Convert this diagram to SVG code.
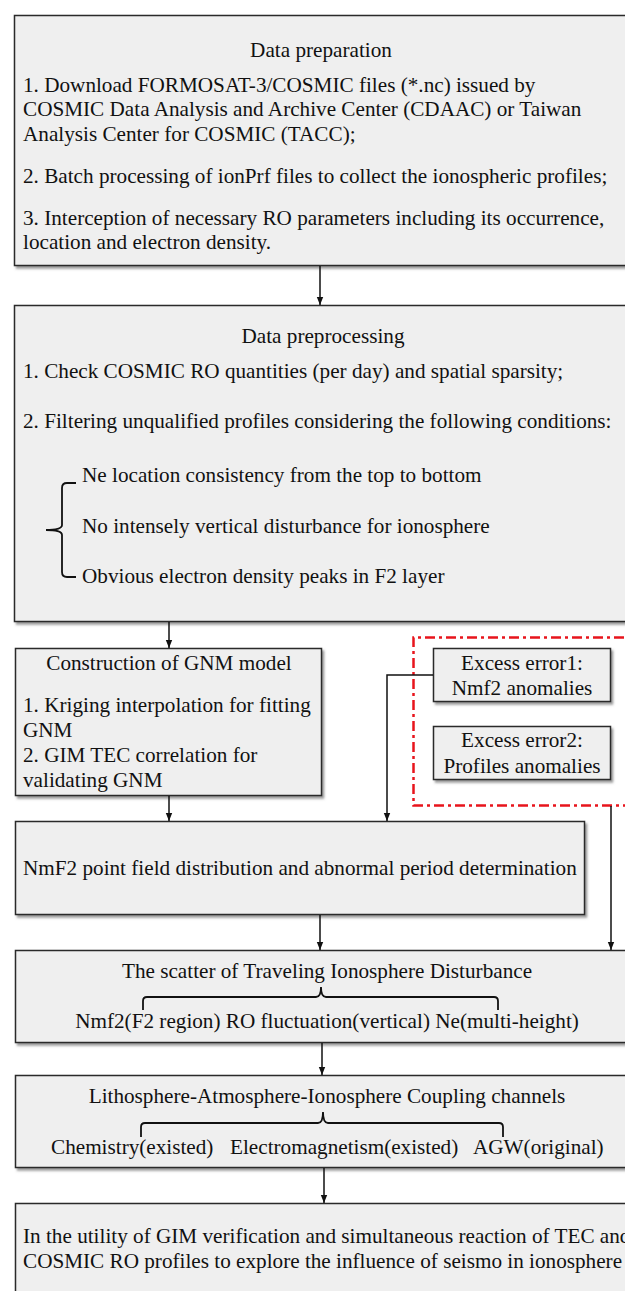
<svg xmlns="http://www.w3.org/2000/svg" width="625" height="1291" viewBox="0 0 625 1291" font-family="'Liberation Serif', 'Times New Roman', serif">
<defs>
<filter id="sh" x="-5%" y="-5%" width="115%" height="120%">
<feDropShadow dx="2" dy="2.5" stdDeviation="1.2" flood-color="#444" flood-opacity="0.55"/>
</filter>
<marker id="ah" viewBox="0 0 10 10" refX="10" refY="5" markerWidth="8" markerHeight="8" markerUnits="userSpaceOnUse" orient="auto">
<path d="M0,1 L10,5 L0,9 Z" fill="#111"/>
</marker>
<style>
.box{fill:#efefef;stroke:#2a2a2a;stroke-width:1.5;filter:url(#sh)}
.t{font-family:'Liberation Serif','Times New Roman',serif;font-size:21.2px;fill:#111}
.c{text-anchor:middle}
.con{stroke:#111;stroke-width:1.5;fill:none;marker-end:url(#ah)}
.br{stroke:#111;stroke-width:1.8;fill:none}
.red{fill:none;stroke:#e8141c;stroke-width:2.5;stroke-dasharray:10 4 3 4}
</style>
</defs>
<rect width="625" height="1291" fill="#ffffff"/>

<g id="prep">
<rect class="box" x="14.5" y="15.5" width="630" height="250"/>
<text class="t c" x="321" y="57">Data preparation</text>
<text class="t" x="23" y="92">1. Download FORMOSAT-3/COSMIC files (*.nc) issued by</text>
<text class="t" x="23" y="116">COSMIC Data Analysis and Archive Center (CDAAC) or Taiwan</text>
<text class="t" x="23" y="141">Analysis Center for COSMIC (TACC);</text>
<text class="t" x="23" y="183">2. Batch processing of ionPrf files to collect the ionospheric profiles;</text>
<text class="t" x="23" y="225">3. Interception of necessary RO parameters including its occurrence,</text>
<text class="t" x="23" y="249">location and electron density.</text>
</g>

<g id="preproc">
<rect class="box" x="14.5" y="305.5" width="630" height="316"/>
<text class="t c" x="323" y="343">Data preprocessing</text>
<text class="t" x="23" y="378">1. Check COSMIC RO quantities (per day) and spatial sparsity;</text>
<text class="t" x="23" y="428">2. Filtering unqualified profiles considering the following conditions:</text>
<path class="br" d="M76,483 H67 Q62,483 62,488 V525 Q62,530 46,530 Q62,530 62,535 V572 Q62,577 67,577 H76"/>
<text class="t" x="82" y="482">Ne location consistency from the top to bottom</text>
<text class="t" x="82" y="533">No intensely vertical disturbance for ionosphere</text>
<text class="t" x="82" y="583">Obvious electron density peaks in F2 layer</text>
</g>

<g id="gnm">
<rect class="box" x="15.5" y="648.5" width="306" height="147"/>
<text class="t c" x="169" y="670">Construction of GNM model</text>
<text class="t" x="23" y="712">1. Kriging interpolation for fitting</text>
<text class="t" x="23" y="737">GNM</text>
<text class="t" x="23" y="762">2. GIM TEC correlation for</text>
<text class="t" x="23" y="787">validating GNM</text>
</g>

<g id="excess-group">
<path class="red" d="M645,637.5 H413.5 V805.5 H645"/>
</g>

<g id="excess1">
<rect class="box" x="433.5" y="648.5" width="177" height="53"/>
<text class="t c" x="522" y="670">Excess error1:</text>
<text class="t c" x="522" y="695">Nmf2 anomalies</text>
</g>

<g id="excess2">
<rect class="box" x="433.5" y="726.5" width="177" height="53"/>
<text class="t c" x="522" y="747">Excess error2:</text>
<text class="t c" x="522" y="773">Profiles anomalies</text>
</g>

<g id="nmf2">
<rect class="box" x="15.5" y="821.5" width="569" height="93"/>
<text class="t" x="23" y="875">NmF2 point field distribution and abnormal period determination</text>
</g>

<g id="scatter">
<rect class="box" x="15.5" y="950.5" width="630" height="92"/>
<text class="t c" x="327" y="978">The scatter of Traveling Ionosphere Disturbance</text>
<path class="br" d="M143,1010 V1001 Q143,997 147,997 H316 Q321,997 321,987 Q321,997 326,997 H494 Q498,997 498,1001 V1010"/>
<text class="t c" x="327" y="1028">Nmf2(F2 region) RO fluctuation(vertical) Ne(multi-height)</text>
</g>

<g id="laic">
<rect class="box" x="15.5" y="1075.5" width="630" height="92"/>
<text class="t c" x="327" y="1103">Lithosphere-Atmosphere-Ionosphere Coupling channels</text>
<path class="br" d="M141,1137 V1127 Q141,1123 145,1123 H318 Q323,1123 323,1112 Q323,1123 328,1123 H499 Q503,1123 503,1127 V1137"/>
<text class="t" y="1154"><tspan x="51">Chemistry(existed)</tspan><tspan x="230">Electromagnetism(existed)</tspan><tspan x="473">AGW(original)</tspan></text>
</g>

<g id="conclusion">
<rect class="box" x="15.5" y="1203.5" width="630" height="100"/>
<text class="t" x="23" y="1243">In the utility of GIM verification and simultaneous reaction of TEC and</text>
<text class="t" x="23" y="1268">COSMIC RO profiles to explore the influence of seismo in ionosphere</text>
</g>

<g id="connectors">
<path class="con" d="M320,266 V305"/>
<path class="con" d="M169,622 V648"/>
<path class="con" d="M169,796 V821"/>
<path class="con" d="M433,675 H387 V821"/>
<path class="con" d="M320,915 V950"/>
<path class="con" d="M611,806 V950"/>
<path class="con" d="M322,1043 V1075"/>
<path class="con" d="M324,1168 V1203"/>
</g>
</svg>
